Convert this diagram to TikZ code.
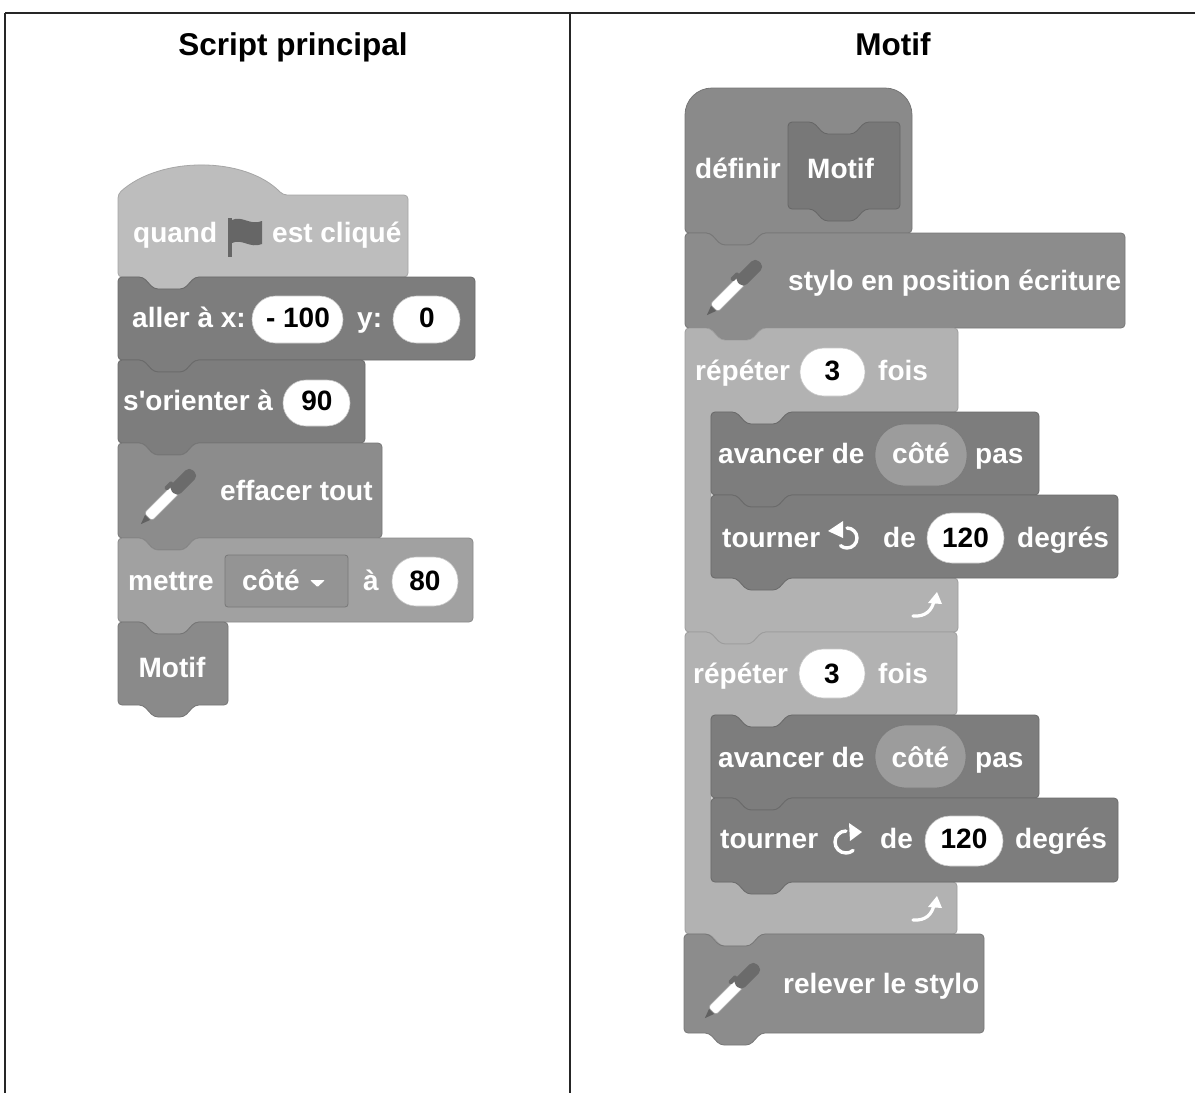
\documentclass[tikz,border=0pt]{standalone}
\usepackage{fontspec}
\setmainfont{Liberation Sans}
\definecolor{cEvent}{gray}{0.74}
\definecolor{cMotion}{gray}{0.49}
\definecolor{cPen}{gray}{0.55}
\definecolor{cVar}{gray}{0.63}
\definecolor{cCustom}{gray}{0.54}
\definecolor{cProto}{gray}{0.47}
\definecolor{cCtrl}{gray}{0.70}
\definecolor{cRep}{gray}{0.61}
\definecolor{cFlag}{gray}{0.40}
\tikzset{
  blockshape/.style={rounded corners=4, line width=0.8},
  motion/.style={blockshape, fill=cMotion, draw=cMotion!85!black},
  penblk/.style={blockshape, fill=cPen, draw=cPen!85!black},
  varblk/.style={blockshape, fill=cVar, draw=cVar!85!black},
  custblk/.style={blockshape, fill=cCustom, draw=cCustom!85!black},
  protoblk/.style={blockshape, fill=cProto, draw=cProto!85!black},
  ctrlblk/.style={blockshape, fill=cCtrl, draw=cCtrl!88!black},
  evblk/.style={blockshape, fill=cEvent, draw=cEvent!88!black},
  btxt/.style={text=white, font=\bfseries\fontsize{28}{30}\selectfont, anchor=base west, inner sep=0pt},
  ntxt/.style={text=black, font=\bfseries\fontsize{28}{30}\selectfont, anchor=base, inner sep=0pt},
  ctxt/.style={text=white, font=\bfseries\fontsize{28}{30}\selectfont, anchor=base, inner sep=0pt},
  ttl/.style={text=black, font=\bfseries\fontsize{31.5}{34}\selectfont, anchor=base, inner sep=0pt},
  numoval/.style={fill=white, draw=black!22, line width=0.6},
  repoval/.style={fill=cRep, draw=cRep!80!black, line width=0.8},
  tabline/.style={draw=black!85, line width=1.6},
  iconline/.style={draw=white, line width=3.4, line cap=round},
}
% stack block: x, y top, width, height
\newcommand\blk[5][]{%
  \path[#1] (#2,{#3+#5/2}) -- (#2,#3) -- ++(25,0) -- ++(11,12) -- ++(30,0) -- ++(11,-12)
    -- ({#2+#4},#3) -- ({#2+#4},{#3+#5}) -- ({#2+77},{#3+#5}) -- ++(-11,12) -- ++(-30,0)
    -- ++(-11,-12) -- (#2,{#3+#5}) -- cycle;}
% C block: x, y top, width, arm bottom, inner bottom, bottom, inner x
\newcommand\cblk[8][]{%
  \path[#1] (#2,{(#3+#5)/2}) -- (#2,#3) -- ++(25,0) -- ++(11,12) -- ++(30,0) -- ++(11,-12)
    -- ({#2+#4},#3) -- ({#2+#4},#5) -- ({#8+77},#5) -- ++(-11,12) -- ++(-30,0) -- ++(-11,-12)
    -- (#8,#5) -- (#8,#6) -- ({#2+#4},#6) -- ({#2+#4},#7) -- ({#2+77},#7) -- ++(-11,12)
    -- ++(-30,0) -- ++(-11,-12) -- (#2,#7) -- cycle;}
% pen icon centred at x,y
\newcommand\penicon[2]{%
  \begin{scope}[shift={(#1,#2)}, rotate=45]
    \fill[black!62] (-37,0) -- (-25,-4.5) -- (-25,4.5) -- cycle;
    \filldraw[fill=white, draw=black!35, line width=0.7, rounded corners=3] (-27,-5.5) rectangle (12,5.5);
    \fill[black!58, rounded corners=5.5] (8,-6.5) rectangle (38,6.5);
    \fill[black!58, rounded corners=1.5] (5,-5) rectangle (15,-9.5);
  \end{scope}}
% loop arrow
\newcommand\looparrow[2]{%
  \begin{scope}[shift={(#1,#2)}]
    \draw[iconline, line width=3.2] (0,0) .. controls (13,1) and (19,-6) .. (21,-15);
    \fill[white] (24,-24) -- (15,-13) -- (29,-12) -- cycle;
  \end{scope}}
\begin{document}
\begin{tikzpicture}[x=1pt, y=-1pt]
\useasboundingbox (0,0) rectangle (1195,1093);
\fill[white] (0,0) rectangle (1195,1093);
% table
\draw[tabline] (5,13) -- (1195,13);
\draw[tabline] (5,13) -- (5,1093);
\draw[tabline] (570,13) -- (570,1093);
\node[ttl] (t1) at (293,55) {Script principal};
\node[ttl] (t2) at (893,55) {Motif};

% ===== left script =====
\path[evblk] (118,236) -- (118,194) .. controls (160,156) and (245,156) .. (283,195) -- (408,195)
  -- (408,277) -- (195,277) -- ++(-11,12) -- ++(-30,0) -- ++(-11,-12) -- (118,277) -- cycle;
\node[btxt] (q1) at (133,242) {quand};
\fill[cFlag] (228,218) rectangle (232,257);
\fill[cFlag] (232,220) .. controls (242,215) and (250,226) .. (262,221) -- (262,244)
  .. controls (250,249) and (242,238) .. (232,243) -- cycle;
\node[btxt] (q2) at (272,242) {est cliqué};

\blk[motion]{118}{277}{357}{83}
\node[btxt] (a1) at (132,327) {aller à x:};
\filldraw[numoval, rounded corners=23.5] (252,296) rectangle (343,343);
\node[ntxt] (a2) at (298,327) {- 100};
\node[btxt] (a3) at (357,327) {y:};
\filldraw[numoval, rounded corners=23.5] (393,296) rectangle (460,343);
\node[ntxt] (a4) at (427,327) {0};

\blk[motion]{118}{360}{247}{83}
\node[btxt] (o1) at (123,410) {s\textquotesingle orienter à};
\filldraw[numoval, rounded corners=23] (283,380) rectangle (350,426);
\node[ntxt] (o2) at (317,410) {90};

\blk[penblk]{118}{443}{264}{95}
\penicon{167}{498}
\node[btxt] (e1) at (220,500) {effacer tout};

\blk[varblk]{118}{538}{355}{84}
\node[btxt] (m1) at (128,590) {mettre};
\filldraw[fill=cVar!92!black, draw=cVar!75!black, line width=0.8, rounded corners=3] (225,555) rectangle (348,607);
\node[btxt] (m2) at (242,590) {côté};
\fill[white, rounded corners=1] (310,580) -- (325,580) -- (317.5,587) -- cycle;
\node[btxt] (m3) at (363,590) {à};
\filldraw[numoval, rounded corners=24] (392,557) rectangle (458,606);
\node[ntxt] (m4) at (425,590) {80};

\blk[custblk]{118}{622}{110}{83}
\node[ctxt] (mo) at (172,677) {Motif};

% ===== right script =====
\path[custblk] (685,160) [rounded corners=27] -- (685,88) -- (912,88) -- (912,160) [rounded corners=4]
  -- (912,233) -- (762,233) -- ++(-11,12) -- ++(-30,0) -- ++(-11,-12) -- (685,233) -- cycle;
\node[btxt] (d1) at (695,178) {définir};
\blk[protoblk]{788}{122}{112}{87}
\node[btxt] (d2) at (807,178) {Motif};

\blk[penblk]{685}{233}{440}{95}
\penicon{733}{289}
\node[btxt] (s1) at (788,290) {stylo en position écriture};

% first repeat
\cblk[ctrlblk]{685}{328}{273}{412}{578}{632}{711}
\node[btxt] (r1) at (695,380) {répéter};
\filldraw[numoval, rounded corners=24] (800,348) rectangle (865,396);
\node[ntxt] (r1n) at (832.5,380) {3};
\node[btxt] (r1f) at (878,380) {fois};
\looparrow{913}{616}

\blk[motion]{711}{412}{328}{83}
\node[btxt] (av1) at (718,463) {avancer de};
\filldraw[repoval, rounded corners=30] (875,424) rectangle (967,486);
\node[ctxt] (av1c) at (921,463) {côté};
\node[btxt] (av1p) at (975,463) {pas};

\blk[motion]{711}{495}{407}{83}
\node[btxt] (tu1) at (722,547) {tourner};
\draw[iconline] (847,528) arc[start angle=-90, end angle=130, radius=10];
\fill[white] (828,531) -- (843,521) -- (843,538) -- cycle;
\node[btxt] (tu1d) at (883,547) {de};
\filldraw[numoval, rounded corners=25] (927,513) rectangle (1004,563);
\node[ntxt] (tu1n) at (965.5,547) {120};
\node[btxt] (tu1g) at (1017,547) {degrés};

% second repeat
\cblk[ctrlblk]{685}{632}{272}{715}{882}{934}{711}
\node[btxt] (r2) at (693,683) {répéter};
\filldraw[numoval, rounded corners=24.5] (799,649) rectangle (865,698);
\node[ntxt] (r2n) at (832,683) {3};
\node[btxt] (r2f) at (878,683) {fois};
\looparrow{913}{920}

\blk[motion]{711}{715}{328}{83}
\node[btxt] (av2) at (718,767) {avancer de};
\filldraw[repoval, rounded corners=31] (875,725) rectangle (966,788);
\node[ctxt] (av2c) at (920.5,767) {côté};
\node[btxt] (av2p) at (975,767) {pas};

\blk[motion]{711}{798}{407}{84}
\node[btxt] (tu2) at (720,848) {tourner};
\draw[iconline] (846,831) arc[start angle=-90, end angle=-310, radius=11];
\fill[white] (862,832) -- (849,823) -- (850,841) -- cycle;
\node[btxt] (tu2d) at (880,848) {de};
\filldraw[numoval, rounded corners=25] (925,816) rectangle (1003,866);
\node[ntxt] (tu2n) at (964,848) {120};
\node[btxt] (tu2g) at (1015,848) {degrés};

\blk[penblk]{684}{934}{300}{99}
\penicon{731}{992}
\node[btxt] (rl) at (783,993) {relever le stylo};
\end{tikzpicture}
\end{document}
